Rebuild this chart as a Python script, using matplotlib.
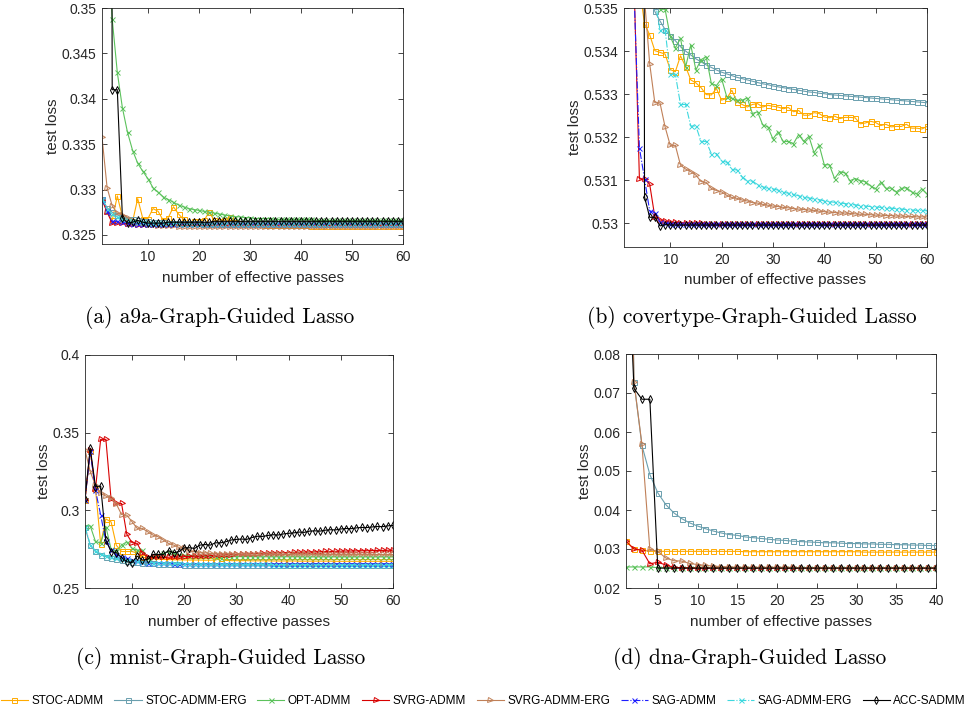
import matplotlib
matplotlib.use("Agg")
import matplotlib.pyplot as plt

# ---------------- data ----------------
names = ["STOC-ADMM", "STOC-ADMM-ERG", "OPT-ADMM", "SVRG-ADMM",
         "SVRG-ADMM-ERG", "SAG-ADMM", "SAG-ADMM-ERG", "ACC-SADMM"]

# (a) a9a
a_stoc = [0.3290, 0.3276, 0.3266, 0.3293, 0.3270, 0.3266, 0.3265, 0.3290, 0.3268, 0.3268,
          0.3279, 0.3276, 0.3266, 0.3269, 0.3281, 0.3273, 0.3267, 0.3263, 0.3265, 0.3265,
          0.3266, 0.3275, 0.3266, 0.3265, 0.3266, 0.3270, 0.3264, 0.3263, 0.3262, 0.3262,
          0.3262, 0.3262, 0.3261, 0.3261, 0.3261, 0.3261, 0.3261, 0.3261, 0.3261, 0.3261,
          0.3261, 0.3260, 0.3260, 0.3260, 0.3260, 0.3260, 0.3260, 0.3260, 0.3260, 0.3260,
          0.3260, 0.3260, 0.3260, 0.3260, 0.3260, 0.3260, 0.3260, 0.3260, 0.3260, 0.3260]
a_stoc_erg = [0.3290, 0.3280, 0.3275, 0.3272, 0.3270, 0.3268, 0.3267, 0.3266, 0.3265, 0.3265,
              0.3264, 0.3264, 0.3264, 0.3263, 0.3263, 0.3263, 0.3263, 0.3263, 0.3263, 0.3263,
              0.3262, 0.3262, 0.3262, 0.3262, 0.3262, 0.3262, 0.3262, 0.3262, 0.3262, 0.3262,
              0.3262, 0.3262, 0.3262, 0.3262, 0.3262, 0.3262, 0.3262, 0.3262, 0.3262, 0.3262,
              0.3262, 0.3262, 0.3262, 0.3262, 0.3262, 0.3262, 0.3262, 0.3262, 0.3262, 0.3262,
              0.3262, 0.3262, 0.3262, 0.3262, 0.3262, 0.3262, 0.3262, 0.3262, 0.3262, 0.3262]
a_opt = [0.3720, 0.3600, 0.3488, 0.3429, 0.3390, 0.3363, 0.3343, 0.3329, 0.3320, 0.3312,
         0.3302, 0.3297, 0.3292, 0.3289, 0.3286, 0.3283, 0.3281, 0.3279, 0.3278, 0.3277,
         0.3276, 0.3275, 0.3274, 0.3273, 0.3272, 0.3271, 0.3270, 0.3270, 0.3269, 0.3269,
         0.3268, 0.3268, 0.3268, 0.3268, 0.3267, 0.3267, 0.3267, 0.3267, 0.3267, 0.3267,
         0.3267, 0.3267, 0.3266, 0.3266, 0.3266, 0.3266, 0.3266, 0.3266, 0.3266, 0.3266,
         0.3266, 0.3266, 0.3266, 0.3266, 0.3266, 0.3266, 0.3266, 0.3266, 0.3266, 0.3266]
a_svrg = [0.3289, 0.3275, 0.3263, 0.3263, 0.3263, 0.3262, 0.3262, 0.3261, 0.3261, 0.3261,
          0.3261, 0.3261, 0.3261, 0.3261, 0.3261, 0.3261, 0.3261, 0.3261, 0.3261, 0.3261,
          0.3261, 0.3261, 0.3261, 0.3261, 0.3261, 0.3261, 0.3261, 0.3261, 0.3261, 0.3261,
          0.3261, 0.3261, 0.3261, 0.3261, 0.3261, 0.3261, 0.3261, 0.3261, 0.3261, 0.3261,
          0.3261, 0.3261, 0.3261, 0.3261, 0.3261, 0.3261, 0.3261, 0.3261, 0.3261, 0.3261,
          0.3261, 0.3261, 0.3261, 0.3261, 0.3261, 0.3261, 0.3261, 0.3261, 0.3261, 0.3261]
a_svrg_erg = [0.3358, 0.3302, 0.3282, 0.3274, 0.3272, 0.3269, 0.3265, 0.3263, 0.3262, 0.3261,
              0.3261, 0.3260, 0.3260, 0.3260, 0.3260, 0.3259, 0.3259, 0.3259, 0.3259, 0.3259,
              0.3259, 0.3259, 0.3259, 0.3259, 0.3259, 0.3259, 0.3259, 0.3259, 0.3259, 0.3259,
              0.3259, 0.3259, 0.3259, 0.3259, 0.3259, 0.3259, 0.3259, 0.3259, 0.3259, 0.3259,
              0.3259, 0.3259, 0.3259, 0.3259, 0.3259, 0.3259, 0.3259, 0.3259, 0.3259, 0.3259,
              0.3259, 0.3259, 0.3259, 0.3259, 0.3259, 0.3259, 0.3259, 0.3259, 0.3259, 0.3259]
a_sag = [0.3290, 0.3276, 0.3265, 0.3265, 0.3264, 0.3263, 0.3262, 0.3262, 0.3262, 0.3262,
         0.3262, 0.3262, 0.3262, 0.3262, 0.3262, 0.3262, 0.3262, 0.3262, 0.3262, 0.3262,
         0.3262, 0.3262, 0.3262, 0.3262, 0.3262, 0.3262, 0.3262, 0.3262, 0.3262, 0.3262,
         0.3262, 0.3262, 0.3262, 0.3262, 0.3262, 0.3262, 0.3262, 0.3262, 0.3262, 0.3262,
         0.3262, 0.3262, 0.3262, 0.3262, 0.3262, 0.3262, 0.3262, 0.3262, 0.3262, 0.3262,
         0.3262, 0.3262, 0.3262, 0.3262, 0.3262, 0.3262, 0.3262, 0.3262, 0.3262, 0.3262]
a_sag_erg = [0.3290, 0.3279, 0.3273, 0.3270, 0.3268, 0.3266, 0.3265, 0.3264, 0.3264, 0.3263,
             0.3263, 0.3263, 0.3263, 0.3263, 0.3263, 0.3262, 0.3262, 0.3262, 0.3262, 0.3262,
             0.3262, 0.3262, 0.3262, 0.3262, 0.3262, 0.3262, 0.3262, 0.3262, 0.3262, 0.3262,
             0.3262, 0.3262, 0.3262, 0.3262, 0.3262, 0.3262, 0.3262, 0.3262, 0.3262, 0.3262,
             0.3262, 0.3262, 0.3262, 0.3262, 0.3262, 0.3262, 0.3262, 0.3262, 0.3262, 0.3262,
             0.3262, 0.3262, 0.3262, 0.3262, 0.3262, 0.3262, 0.3262, 0.3262, 0.3262, 0.3262]
a_acc = [0.6000, 0.6000, 0.3410, 0.3410, 0.3269, 0.3263, 0.3264, 0.3266, 0.3264, 0.3263,
         0.3263, 0.3263, 0.3263, 0.3264, 0.3264, 0.3264, 0.3264, 0.3264, 0.3264, 0.3264,
         0.3264, 0.3264, 0.3265, 0.3265, 0.3265, 0.3265, 0.3265, 0.3265, 0.3265, 0.3265,
         0.3265, 0.3265, 0.3265, 0.3265, 0.3265, 0.3265, 0.3265, 0.3265, 0.3265, 0.3265,
         0.3265, 0.3265, 0.3265, 0.3265, 0.3265, 0.3265, 0.3265, 0.3265, 0.3265, 0.3265,
         0.3265, 0.3265, 0.3265, 0.3265, 0.3265, 0.3265, 0.3265, 0.3265, 0.3265, 0.3265]

# (b) covertype
b_stoc = [0.5450, 0.5400, 0.5370, 0.5355, 0.53463, 0.53438, 0.53401, 0.53397, 0.53393, 0.53357,
          0.53352, 0.53389, 0.53364, 0.53333, 0.53326, 0.53315, 0.53299, 0.53298, 0.53313, 0.53286,
          0.53290, 0.53309, 0.53282, 0.53276, 0.53270, 0.53276, 0.53278, 0.53270, 0.53274, 0.53272,
          0.53270, 0.53266, 0.53269, 0.53259, 0.53262, 0.53251, 0.53251, 0.53257, 0.53255, 0.53247,
          0.53245, 0.53249, 0.53243, 0.53246, 0.53246, 0.53245, 0.53231, 0.53233, 0.53237, 0.53234,
          0.53227, 0.53230, 0.53224, 0.53225, 0.53225, 0.53230, 0.53221, 0.53221, 0.53219, 0.53225]
b_stoc_erg = [0.5480, 0.5430, 0.5400, 0.5380, 0.5365, 0.5355, 0.53492, 0.53470, 0.53450, 0.53436,
              0.53424, 0.53410, 0.53400, 0.53391, 0.53382, 0.53375, 0.53368, 0.53362, 0.53356, 0.53351,
              0.53347, 0.53343, 0.53339, 0.53336, 0.53333, 0.53330, 0.53327, 0.53324, 0.53322, 0.53319,
              0.53317, 0.53315, 0.53313, 0.53311, 0.53309, 0.53307, 0.53305, 0.53304, 0.53302, 0.53301,
              0.53299, 0.53298, 0.53297, 0.53296, 0.53295, 0.53294, 0.53293, 0.53292, 0.53291, 0.53290,
              0.53289, 0.53288, 0.53287, 0.53286, 0.53285, 0.53284, 0.53283, 0.53282, 0.53281, 0.53280]
b_opt = [0.5500, 0.5450, 0.5410, 0.5390, 0.5375, 0.5365, 0.5356, 0.53497, 0.53497, 0.53434,
         0.53407, 0.53430, 0.53363, 0.53414, 0.53356, 0.53380, 0.53387, 0.53325, 0.53320, 0.53336,
         0.53294, 0.53290, 0.53286, 0.53286, 0.53291, 0.53255, 0.53259, 0.53229, 0.53224, 0.53196,
         0.53212, 0.53190, 0.53190, 0.53185, 0.53206, 0.53190, 0.53202, 0.53164, 0.53181, 0.53136,
         0.53136, 0.53104, 0.53120, 0.53117, 0.53099, 0.53104, 0.53099, 0.53097, 0.53087, 0.53080,
         0.53095, 0.53081, 0.53082, 0.53073, 0.53081, 0.53083, 0.53073, 0.53068, 0.53080, 0.53068]
b_svrg = [0.5500, 0.5450, 0.5354, 0.53103, 0.53103, 0.53091, 0.53015, 0.53008, 0.53005, 0.53003,
          0.53002, 0.53001, 0.53001, 0.53000, 0.53000, 0.53000, 0.52999, 0.52999, 0.52999, 0.52999,
          0.52999, 0.52999, 0.52999, 0.52999, 0.52999, 0.52999, 0.52999, 0.52999, 0.52999, 0.52999,
          0.52999, 0.52999, 0.52999, 0.52999, 0.52999, 0.52999, 0.52999, 0.52999, 0.52999, 0.52999,
          0.52999, 0.52999, 0.52999, 0.52999, 0.52999, 0.52999, 0.52999, 0.52999, 0.52999, 0.52999,
          0.52999, 0.52999, 0.52999, 0.52999, 0.52999, 0.52999, 0.52999, 0.52999, 0.52999, 0.52999]
b_svrg_erg = [0.5480, 0.5440, 0.5400, 0.5370, 0.5352, 0.53371, 0.53280, 0.53280, 0.53224, 0.53181,
              0.53181, 0.53135, 0.53126, 0.53120, 0.53112, 0.53097, 0.53095, 0.53081, 0.53076, 0.53073,
              0.53065, 0.53060, 0.53058, 0.53054, 0.53052, 0.53048, 0.53047, 0.53044, 0.53042, 0.53040,
              0.53039, 0.53037, 0.53036, 0.53034, 0.53033, 0.53032, 0.53031, 0.53030, 0.53028, 0.53027,
              0.53026, 0.53025, 0.53024, 0.53024, 0.53023, 0.53022, 0.53021, 0.53021, 0.53020, 0.53019,
              0.53019, 0.53018, 0.53018, 0.53017, 0.53017, 0.53016, 0.53016, 0.53015, 0.53015, 0.53015]
b_sag = [0.5500, 0.5450, 0.5352, 0.53175, 0.53103, 0.53029, 0.53025, 0.53003, 0.53000, 0.52999,
         0.52998, 0.52998, 0.52998, 0.52998, 0.52998, 0.52998, 0.52998, 0.52998, 0.52998, 0.52998,
         0.52998, 0.52998, 0.52998, 0.52998, 0.52998, 0.52998, 0.52998, 0.52998, 0.52998, 0.52998,
         0.52998, 0.52998, 0.52998, 0.52998, 0.52998, 0.52998, 0.52998, 0.52998, 0.52998, 0.52998,
         0.52998, 0.52998, 0.52998, 0.52998, 0.52998, 0.52998, 0.52998, 0.52998, 0.52998, 0.52998,
         0.52998, 0.52998, 0.52998, 0.52998, 0.52998, 0.52998, 0.52998, 0.52998, 0.52998, 0.52998]
b_sag_erg = [0.5500, 0.5450, 0.5400, 0.5380, 0.5370, 0.5360, 0.5352, 0.53450, 0.53450, 0.53346,
             0.53346, 0.53276, 0.53276, 0.53226, 0.53226, 0.53190, 0.53190, 0.53162, 0.53162, 0.53145,
             0.53142, 0.53125, 0.53124, 0.53108, 0.53099, 0.53098, 0.53090, 0.53085, 0.53081, 0.53080,
             0.53077, 0.53072, 0.53070, 0.53067, 0.53064, 0.53060, 0.53059, 0.53056, 0.53055, 0.53052,
             0.53050, 0.53049, 0.53047, 0.53046, 0.53044, 0.53043, 0.53041, 0.53040, 0.53039, 0.53038,
             0.53037, 0.53036, 0.53035, 0.53034, 0.53033, 0.53032, 0.53031, 0.53030, 0.53030, 0.53029]
b_acc = [0.6000, 0.6000, 0.6000, 0.6000, 0.53061, 0.53014, 0.53014, 0.52994, 0.52997, 0.52996,
         0.52996, 0.52996, 0.52996, 0.52996, 0.52996, 0.52996, 0.52996, 0.52996, 0.52996, 0.52996,
         0.52996, 0.52996, 0.52996, 0.52996, 0.52996, 0.52996, 0.52996, 0.52996, 0.52996, 0.52996,
         0.52996, 0.52996, 0.52996, 0.52996, 0.52996, 0.52996, 0.52996, 0.52996, 0.52996, 0.52996,
         0.52996, 0.52996, 0.52996, 0.52996, 0.52996, 0.52996, 0.52996, 0.52996, 0.52996, 0.52996,
         0.52996, 0.52996, 0.52996, 0.52996, 0.52996, 0.52996, 0.52996, 0.52996, 0.52996, 0.52996]

# (c) mnist
c_stoc = [0.3068, 0.3380, 0.3140, 0.2785, 0.2945, 0.2925, 0.2775, 0.2735, 0.2735, 0.2735,
          0.2725, 0.2700, 0.2690, 0.2690, 0.2686, 0.2684, 0.2683, 0.2682, 0.2681, 0.2681,
          0.2680, 0.2680, 0.2680, 0.2679, 0.2679, 0.2680, 0.2690, 0.2677, 0.2676, 0.2676,
          0.2676, 0.2676, 0.2675, 0.2675, 0.2675, 0.2675, 0.2674, 0.2674, 0.2674, 0.2674,
          0.2674, 0.2673, 0.2673, 0.2673, 0.2673, 0.2673, 0.2673, 0.2673, 0.2672, 0.2672,
          0.2672, 0.2672, 0.2672, 0.2672, 0.2672, 0.2672, 0.2672, 0.2672, 0.2672, 0.2672]
c_stoc_erg = [0.2890, 0.2775, 0.2735, 0.2715, 0.2702, 0.2692, 0.2684, 0.2678, 0.2673, 0.2669,
              0.2665, 0.2662, 0.2660, 0.2658, 0.2656, 0.2655, 0.2654, 0.2653, 0.2652, 0.2651,
              0.2650, 0.2650, 0.2649, 0.2649, 0.2648, 0.2648, 0.2648, 0.2647, 0.2647, 0.2647,
              0.2647, 0.2647, 0.2646, 0.2646, 0.2646, 0.2646, 0.2646, 0.2646, 0.2646, 0.2646,
              0.2646, 0.2645, 0.2645, 0.2645, 0.2645, 0.2645, 0.2645, 0.2645, 0.2645, 0.2645,
              0.2645, 0.2645, 0.2645, 0.2645, 0.2645, 0.2645, 0.2645, 0.2645, 0.2645, 0.2645]
c_opt = [0.2897, 0.2900, 0.2800, 0.2790, 0.2895, 0.2750, 0.2735, 0.2777, 0.2797, 0.2755,
         0.2744, 0.2744, 0.2691, 0.2702, 0.2712, 0.2723, 0.2734, 0.2723, 0.2712, 0.2710,
         0.2708, 0.2706, 0.2705, 0.2704, 0.2703, 0.2702, 0.2692, 0.2702, 0.2702, 0.2702,
         0.2702, 0.2702, 0.2702, 0.2701, 0.2701, 0.2701, 0.2701, 0.2701, 0.2701, 0.2701,
         0.2701, 0.2701, 0.2700, 0.2700, 0.2700, 0.2700, 0.2700, 0.2700, 0.2700, 0.2700,
         0.2700, 0.2700, 0.2700, 0.2700, 0.2700, 0.2700, 0.2700, 0.2700, 0.2700, 0.2700]
c_svrg = [0.3068, 0.3390, 0.3135, 0.3457, 0.3457, 0.3070, 0.3044, 0.3044, 0.2847, 0.2792,
          0.2787, 0.2723, 0.2702, 0.2697, 0.2697, 0.2698, 0.2698, 0.2700, 0.2700, 0.2702,
          0.2703, 0.2705, 0.2706, 0.2708, 0.2709, 0.2711, 0.2712, 0.2714, 0.2715, 0.2717,
          0.2718, 0.2719, 0.2721, 0.2722, 0.2723, 0.2724, 0.2725, 0.2726, 0.2727, 0.2728,
          0.2729, 0.2730, 0.2731, 0.2732, 0.2733, 0.2734, 0.2735, 0.2735, 0.2736, 0.2737,
          0.2738, 0.2738, 0.2739, 0.2740, 0.2740, 0.2741, 0.2742, 0.2742, 0.2743, 0.2744]
c_svrg_erg = [0.3389, 0.3249, 0.3163, 0.3109, 0.3092, 0.3077, 0.3041, 0.2973, 0.2969, 0.2927,
              0.2884, 0.2884, 0.2862, 0.2841, 0.2830, 0.2809, 0.2787, 0.2776, 0.2761, 0.2755,
              0.2740, 0.2734, 0.2727, 0.2727, 0.2723, 0.2721, 0.2720, 0.2720, 0.2719, 0.2719,
              0.2719, 0.2718, 0.2718, 0.2718, 0.2718, 0.2718, 0.2717, 0.2717, 0.2717, 0.2717,
              0.2717, 0.2717, 0.2717, 0.2717, 0.2716, 0.2716, 0.2716, 0.2716, 0.2716, 0.2716,
              0.2716, 0.2716, 0.2716, 0.2716, 0.2716, 0.2716, 0.2716, 0.2716, 0.2716, 0.2716]
c_sag = [0.3068, 0.3380, 0.3130, 0.2970, 0.2800, 0.2745, 0.2715, 0.2700, 0.2690, 0.2680,
         0.2672, 0.2667, 0.2664, 0.2662, 0.2660, 0.2659, 0.2658, 0.2657, 0.2656, 0.2656,
         0.2655, 0.2655, 0.2655, 0.2655, 0.2655, 0.2655, 0.2655, 0.2655, 0.2655, 0.2655,
         0.2655, 0.2655, 0.2655, 0.2655, 0.2655, 0.2655, 0.2655, 0.2655, 0.2655, 0.2655,
         0.2655, 0.2655, 0.2655, 0.2655, 0.2655, 0.2655, 0.2655, 0.2655, 0.2655, 0.2655,
         0.2655, 0.2655, 0.2655, 0.2655, 0.2655, 0.2655, 0.2655, 0.2655, 0.2655, 0.2655]
c_sag_erg = [0.2895, 0.2780, 0.2740, 0.2720, 0.2707, 0.2697, 0.2690, 0.2684, 0.2679, 0.2675,
             0.2671, 0.2668, 0.2666, 0.2664, 0.2662, 0.2661, 0.2660, 0.2659, 0.2658, 0.2657,
             0.2656, 0.2656, 0.2655, 0.2655, 0.2654, 0.2654, 0.2654, 0.2653, 0.2653, 0.2653,
             0.2653, 0.2652, 0.2652, 0.2652, 0.2652, 0.2652, 0.2651, 0.2651, 0.2651, 0.2651,
             0.2651, 0.2651, 0.2651, 0.2650, 0.2650, 0.2650, 0.2650, 0.2650, 0.2650, 0.2650,
             0.2650, 0.2650, 0.2650, 0.2650, 0.2650, 0.2650, 0.2650, 0.2650, 0.2650, 0.2650]
c_acc = [0.3075, 0.3400, 0.3152, 0.3156, 0.2809, 0.2734, 0.2727, 0.2695, 0.2669, 0.2663,
         0.2705, 0.2680, 0.2684, 0.2716, 0.2716, 0.2716, 0.2740, 0.2727, 0.2734, 0.2759,
         0.2759, 0.2755, 0.2776, 0.2780, 0.2776, 0.2791, 0.2791, 0.2798, 0.2809, 0.2813,
         0.2815, 0.2813, 0.2825, 0.2833, 0.2832, 0.2838, 0.2843, 0.2841, 0.2848, 0.2852,
         0.2855, 0.2860, 0.2858, 0.2866, 0.2868, 0.2866, 0.2872, 0.2875, 0.2874, 0.2880,
         0.2883, 0.2882, 0.2887, 0.2890, 0.2889, 0.2893, 0.2896, 0.2895, 0.2900, 0.2903]

# (d) dna (SAG curves not visible in this panel)
d_stoc = [0.0320, 0.0300, 0.0297, 0.0294, 0.0294, 0.0294, 0.0294, 0.0294, 0.0294, 0.0294,
          0.0294, 0.0294, 0.0294, 0.0294, 0.0294, 0.0293, 0.0293, 0.0293, 0.0293, 0.0293,
          0.0293, 0.0293, 0.0293, 0.0293, 0.0293, 0.0293, 0.0293, 0.0293, 0.0293, 0.0293,
          0.0292, 0.0292, 0.0292, 0.0292, 0.0292, 0.0292, 0.0292, 0.0292, 0.0292, 0.0292]
d_stoc_erg = [0.2000, 0.0729, 0.0566, 0.0491, 0.0444, 0.0414, 0.0393, 0.0378, 0.0367, 0.0359,
              0.0352, 0.0346, 0.0341, 0.0337, 0.0335, 0.0331, 0.0329, 0.0327, 0.0325, 0.0323,
              0.0322, 0.0320, 0.0319, 0.0318, 0.0317, 0.0316, 0.0316, 0.0315, 0.0314, 0.0314,
              0.0313, 0.0313, 0.0312, 0.0312, 0.0311, 0.0311, 0.0310, 0.0310, 0.0309, 0.0309]
d_opt = [0.0254, 0.0254, 0.0254, 0.0254, 0.0252, 0.0252, 0.0252, 0.0252, 0.0252, 0.0252,
         0.0252, 0.0252, 0.0252, 0.0252, 0.0252, 0.0252, 0.0252, 0.0252, 0.0252, 0.0252,
         0.0251, 0.0251, 0.0251, 0.0251, 0.0251, 0.0251, 0.0251, 0.0251, 0.0251, 0.0251,
         0.0251, 0.0251, 0.0251, 0.0251, 0.0251, 0.0251, 0.0251, 0.0251, 0.0251, 0.0251]
d_svrg = [0.0320, 0.0300, 0.0297, 0.0262, 0.0266, 0.0259, 0.0253, 0.0252, 0.0251, 0.0251,
          0.0251, 0.0251, 0.0251, 0.0251, 0.0251, 0.0251, 0.0251, 0.0251, 0.0251, 0.0251,
          0.0251, 0.0251, 0.0251, 0.0251, 0.0251, 0.0251, 0.0251, 0.0251, 0.0251, 0.0251,
          0.0251, 0.0251, 0.0251, 0.0251, 0.0251, 0.0251, 0.0251, 0.0251, 0.0251, 0.0251]
d_svrg_erg = [0.2000, 0.0729, 0.0569, 0.0299, 0.0294, 0.0277, 0.0270, 0.0269, 0.0263, 0.0260,
              0.0258, 0.0256, 0.0255, 0.0254, 0.0253, 0.0253, 0.0253, 0.0253, 0.0253, 0.0253,
              0.0253, 0.0253, 0.0252, 0.0252, 0.0252, 0.0252, 0.0252, 0.0252, 0.0252, 0.0252,
              0.0252, 0.0252, 0.0252, 0.0252, 0.0252, 0.0252, 0.0252, 0.0252, 0.0252, 0.0252]
d_acc = [0.1200, 0.0712, 0.0684, 0.0684, 0.0251, 0.0251, 0.0251, 0.0251, 0.0251, 0.0251,
         0.0251, 0.0251, 0.0251, 0.0251, 0.0251, 0.0251, 0.0251, 0.0251, 0.0251, 0.0251,
         0.0251, 0.0251, 0.0251, 0.0251, 0.0251, 0.0251, 0.0251, 0.0251, 0.0251, 0.0251,
         0.0251, 0.0251, 0.0251, 0.0251, 0.0251, 0.0251, 0.0251, 0.0251, 0.0251, 0.0251]

panels = [
    dict(series=[a_stoc, a_stoc_erg, a_opt, a_svrg, a_svrg_erg, a_sag, a_sag_erg, a_acc],
         ylim=(0.324, 0.35), xlim=(1, 60),
         yticks=[0.325, 0.33, 0.335, 0.34, 0.345, 0.35],
         ylabels=["0.325", "0.33", "0.335", "0.34", "0.345", "0.35"],
         xticks=[10, 20, 30, 40, 50, 60],
         caption="(a) a9a-Graph-Guided Lasso"),
    dict(series=[b_stoc, b_stoc_erg, b_opt, b_svrg, b_svrg_erg, b_sag, b_sag_erg, b_acc],
         ylim=(0.52945, 0.535), xlim=(1, 60),
         yticks=[0.53, 0.531, 0.532, 0.533, 0.534, 0.535],
         ylabels=["0.53", "0.531", "0.532", "0.533", "0.534", "0.535"],
         xticks=[10, 20, 30, 40, 50, 60],
         caption="(b) covertype-Graph-Guided Lasso"),
    dict(series=[c_stoc, c_stoc_erg, c_opt, c_svrg, c_svrg_erg, c_sag, c_sag_erg, c_acc],
         ylim=(0.25, 0.4), xlim=(1, 60),
         yticks=[0.25, 0.3, 0.35, 0.4],
         ylabels=["0.25", "0.3", "0.35", "0.4"],
         xticks=[10, 20, 30, 40, 50, 60],
         caption="(c) mnist-Graph-Guided Lasso"),
    dict(series=[d_stoc, d_stoc_erg, d_opt, d_svrg, d_svrg_erg, None, None, d_acc],
         ylim=(0.02, 0.08), xlim=(1, 40),
         yticks=[0.02, 0.03, 0.04, 0.05, 0.06, 0.07, 0.08],
         ylabels=["0.02", "0.03", "0.04", "0.05", "0.06", "0.07", "0.08"],
         xticks=[5, 10, 15, 20, 25, 30, 35, 40],
         caption="(d) dna-Graph-Guided Lasso"),
]

# ---------------- styles ----------------
colors = ["#FFAA00", "#6A9FAE", "#5CC25C", "#D80000", "#C08058", "#1E1EFF", "#3ED8DE", "#000000"]
markers = ["s", "s", "x", ">", ">", "x", "x", "d"]
linestyles = ["-", "-", "-", "-", "-", "-.", "-.", "-"]

W, H = 967, 717
fig = plt.figure(figsize=(W / 100, H / 100), dpi=100)
# axes boxes in pixels: left, right, top, bottom
boxes = [(102, 403, 8, 244), (624, 927, 8, 247), (85, 393, 355, 588), (626, 936, 354, 588)]
ylab_x = [53, 575, 44, 585]
xlab_y = [278, 280, 622, 622]
captions_xy = [(220, 318), (752, 318), (221, 659), (750, 659)]

dark = "#262626"
handles = None
for p, (l, r, t, b), yx, xy, cxy in zip(panels, boxes, ylab_x, xlab_y, captions_xy):
    ax = fig.add_axes([l / W, 1 - b / H, (r - l) / W, (b - t) / H])
    hs = []
    for ys, c, m, ls, nm in zip(p["series"], colors, markers, linestyles, names):
        if ys is None:
            h, = ax.plot([], [], color=c, marker=m, ls=ls, lw=0.8, ms=3.6,
                         mfc="none", mew=0.7, label=nm)
        else:
            xs = list(range(1, len(ys) + 1))
            h, = ax.plot(xs, ys, color=c, marker=m, ls=ls, lw=0.8, ms=3.6,
                         mfc="none", mew=0.7, label=nm)
        hs.append(h)
    if handles is None:
        handles = hs
    ax.set_xlim(*p["xlim"])
    ax.set_ylim(*p["ylim"])
    ax.set_xticks(p["xticks"])
    ax.set_xticklabels([str(v) for v in p["xticks"]])
    ax.set_yticks(p["yticks"])
    ax.set_yticklabels(p["ylabels"])
    ax.tick_params(direction="in", top=True, right=True, length=3.5, width=0.6,
                   colors=dark, labelsize=10, pad=4)
    for lab in ax.get_xticklabels() + ax.get_yticklabels():
        lab.set_family("Liberation Sans")
    for s in ax.spines.values():
        s.set_color(dark)
        s.set_linewidth(0.6)
    ax.set_ylabel("test loss", family="Liberation Sans", fontsize=11, color=dark)
    ax.set_xlabel("number of effective passes", family="Liberation Sans", fontsize=11, color=dark)
    ax.yaxis.label.set_va("center")
    ax.xaxis.label.set_va("center")
    ax.yaxis.set_label_coords((yx - l) / (r - l), 0.5)
    ax.xaxis.set_label_coords(0.5, (b - xy) / (b - t))
    fig.text(cxy[0] / W, 1 - cxy[1] / H, p["caption"], family="cmr10", fontsize=15.5,
             ha="center", va="center", color="black")

fig.legend(handles, names, loc="center", bbox_to_anchor=(0.5, 1 - 701 / H), ncol=8,
           frameon=False, prop={"family": "Liberation Sans", "size": 8.5},
           handlelength=2.3, handletextpad=0.3, columnspacing=0.9, borderaxespad=0)

fig.savefig("out.png", dpi=100)
